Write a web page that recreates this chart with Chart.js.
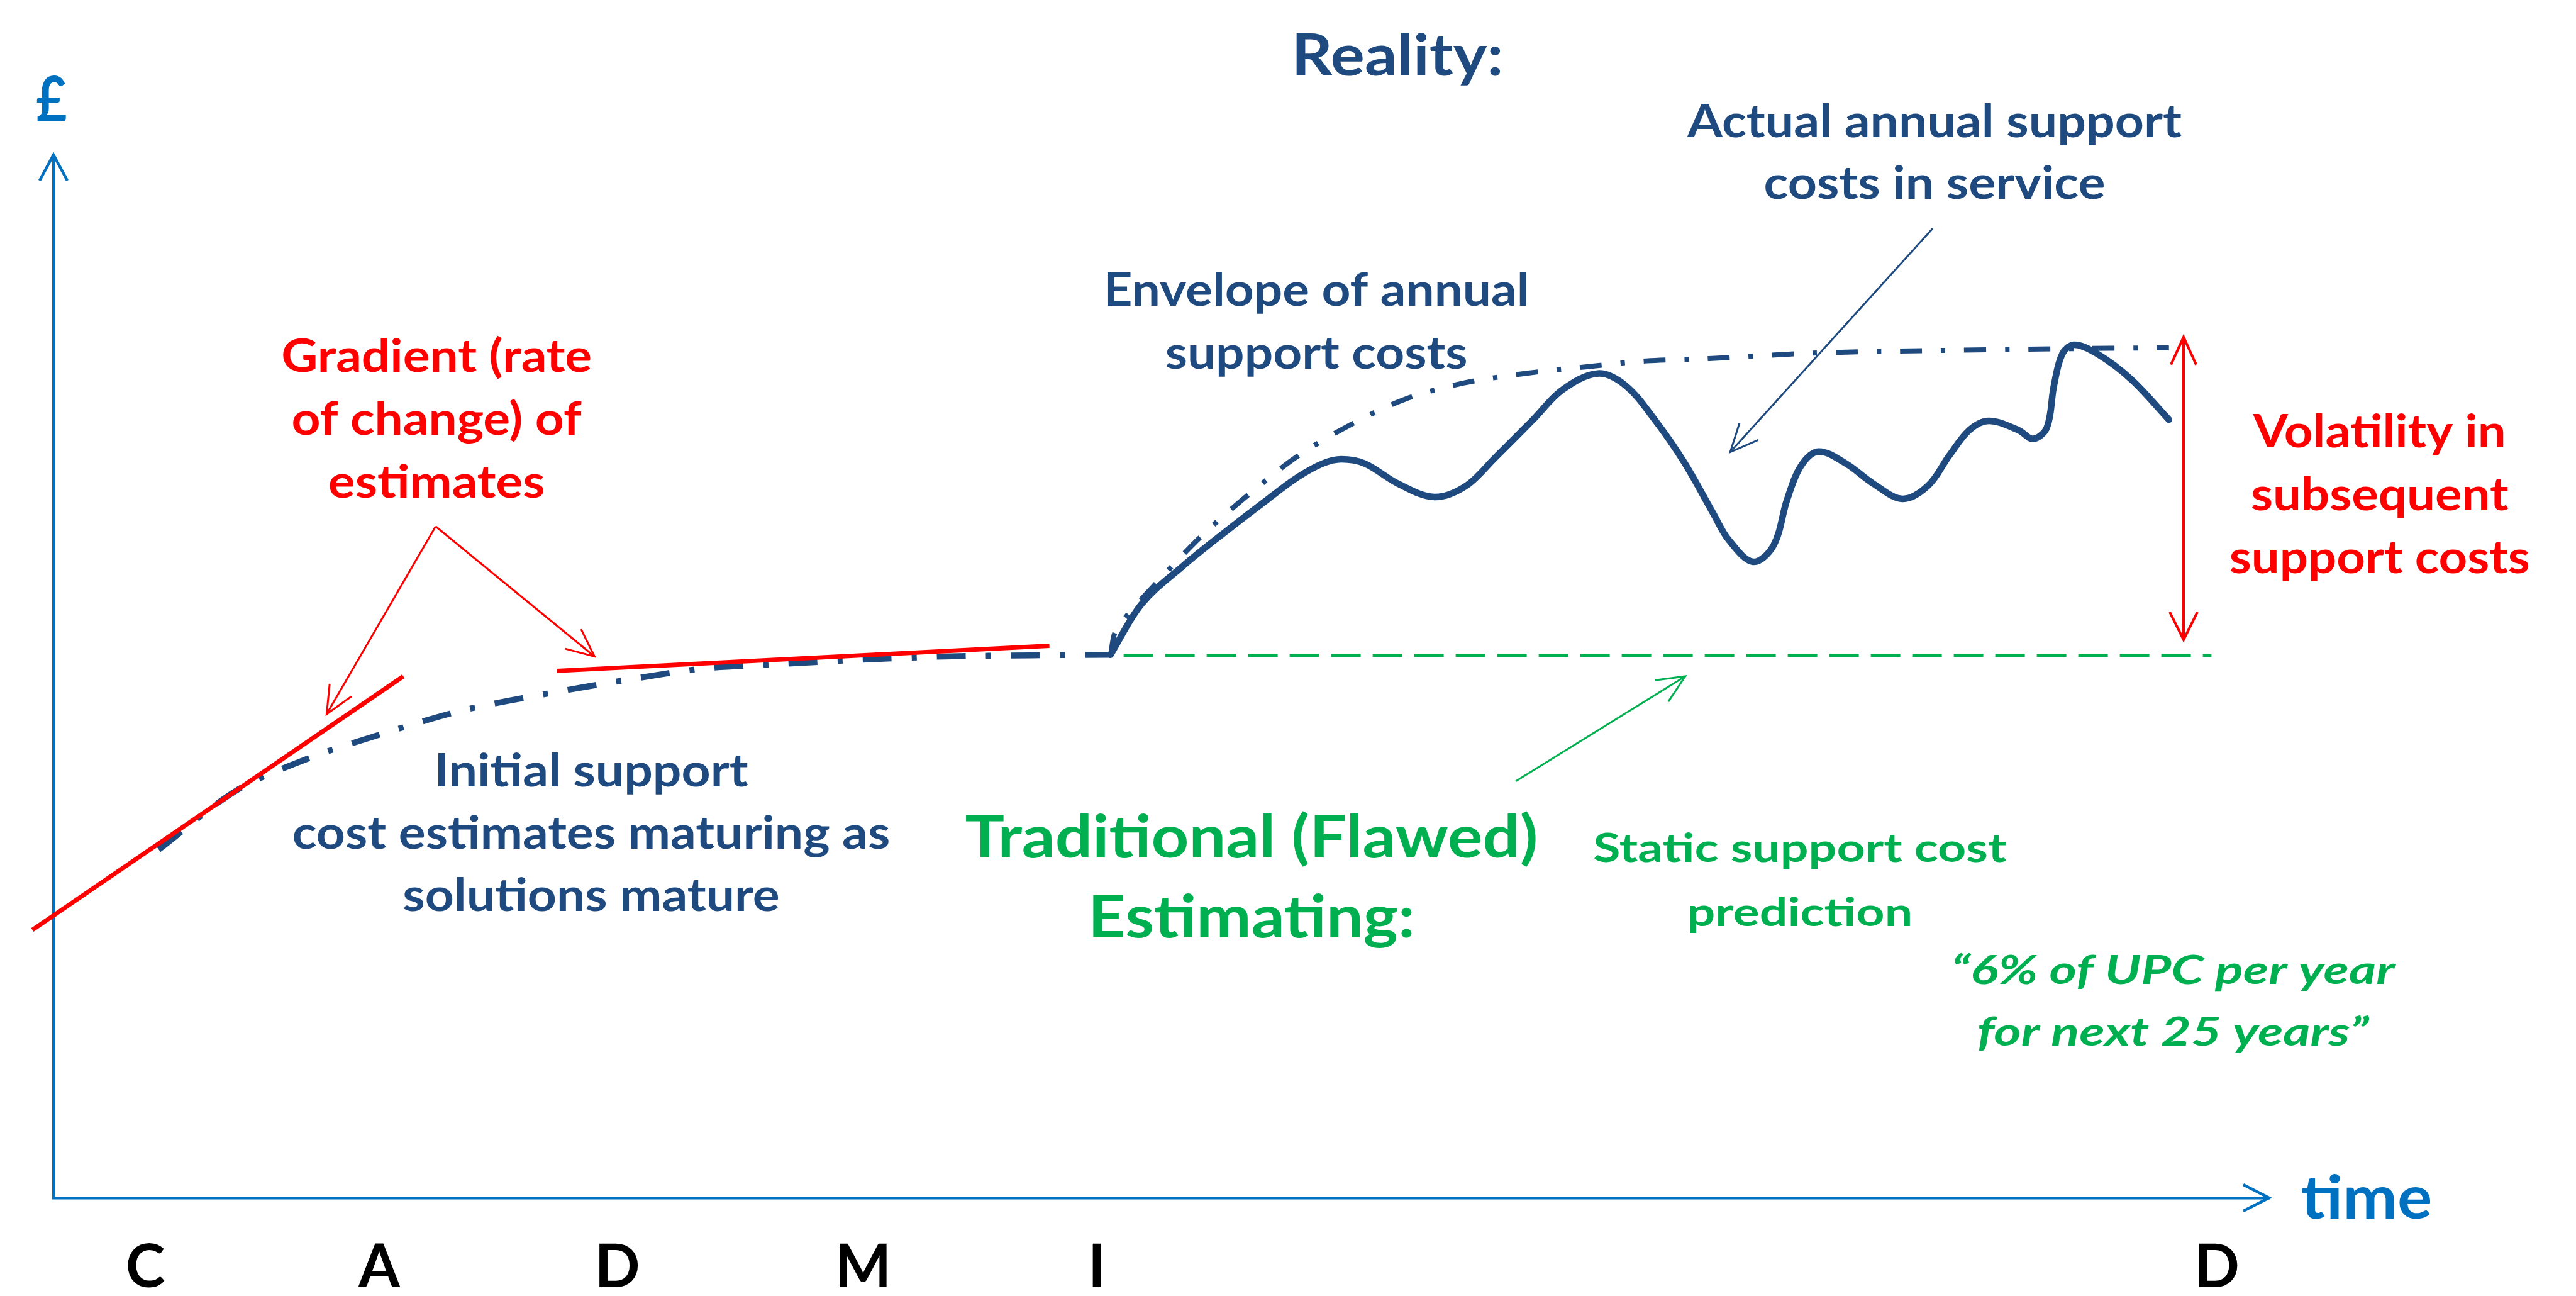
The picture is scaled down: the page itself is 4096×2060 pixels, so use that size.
<!DOCTYPE html>
<html>
<head>
<meta charset="utf-8">
<script src="https://cdn.jsdelivr.net/npm/chart.js@4.4.1/dist/chart.umd.min.js"></script>
<style>
  html, body { margin: 0; padding: 0; background: #fff; }
  #wrap { width: 4096px; height: 2060px; }
</style>
</head>
<body>
<div id="wrap"><canvas id="costChart"></canvas></div>
<script>
// phases along the time axis
const phaseLabels = ['C', 'A', 'D', 'M', 'I', 'D'];
const phasePos = [4.15, 14.7, 25.45, 36.54, 47.09, 97.64];

// red tangents = gradient of estimates
const tangent1X = [-0.95, 15.79];
const tangent1Y = [25.69, 50.0];
const tangent2X = [22.72, 44.95];
const tangent2Y = [50.52, 52.93];

// initial support cost estimates (dash-dot)
const initialX = [4.75, 8.27, 11.57, 15.01, 18.55, 22.29, 25.72, 29.34, 33.05, 36.68, 40.22, 44.12, 47.71];
const initialY = [33.39, 39.07, 42.18, 44.60, 46.78, 48.34, 49.60, 50.75, 51.21, 51.61, 51.90, 52.01, 52.07];

// traditional static prediction
const staticX = [48.3, 97.4];
const staticY = [52.0, 52.0];

// envelope of annual support costs
const envelopeX = [47.71, 47.98, 50.07, 51.96, 54.07, 56.15, 58.51, 60.99, 63.64, 66.40, 69.14, 71.90, 74.73, 79.34, 84.31, 90.21, 95.48];
const envelopeY = [52.07, 54.48, 59.60, 63.74, 67.65, 71.10, 74.08, 76.56, 78.11, 79.03, 79.66, 80.24, 80.46, 80.98, 81.21, 81.39, 81.50];

// actual annual support costs in service
const actualX = [47.71, 49.12, 51.01, 52.93, 54.83, 56.15, 57.29, 58.13, 59.18, 60.70, 62.32, 63.73, 65.05, 66.78, 68.11, 69.70, 70.95, 72.27, 73.60, 74.92, 75.60, 76.71, 77.63, 78.25, 78.87, 79.66, 80.90, 82.15, 83.45, 84.61, 85.56, 86.48, 87.35, 88.67, 89.35, 89.97, 90.29, 90.67, 91.21, 92.24, 93.78, 95.48];
const actualY = [52.07, 56.95, 60.63, 63.91, 67.01, 69.08, 70.40, 70.81, 70.40, 68.45, 67.19, 68.22, 70.92, 74.60, 77.47, 79.03, 77.88, 74.60, 70.52, 65.58, 63.11, 60.98, 62.53, 66.96, 70.17, 71.55, 70.40, 68.45, 67.01, 68.28, 71.15, 73.62, 74.49, 73.62, 72.76, 73.85, 77.88, 80.92, 81.79, 80.92, 78.46, 74.60];

const AXIS_BLUE = '#0070C0';
const NAVY = '#1F4A7F';
const RED = '#FF0000';
const GREEN = '#00B050';
const FONT = 'Lato, "Open Sans", sans-serif';

const zip = (xs, ys) => xs.map((x, i) => ({ x, y: ys[i] }));

// text notes: centre x / first baseline y in data units, dy = line step
const notes = [
  { lines: ['£'], x: -0.09, y: 103.2, dy: 0, size: 99, color: AXIS_BLUE, w: 49 },
  { lines: ['time'], x: 104.4, y: -2.0, dy: 0, size: 96, color: AXIS_BLUE, w: 209 },
  { lines: ['Reality:'], x: 60.66, y: 107.6, dy: 0, size: 92, color: NAVY, w: 337 },
  { lines: ['Actual annual support', 'costs in service'], x: 84.9, y: 101.7, dy: 5.91, size: 72, color: NAVY, w: 786 },
  { lines: ['Envelope of annual', 'support costs'], x: 57.0, y: 85.5, dy: 6.03, size: 72, color: NAVY, w: 677 },
  { lines: ['Gradient (rate', 'of change) of', 'estimates'], x: 17.29, y: 79.2, dy: 6.03, size: 72, color: RED, w: 494 },
  { lines: ['Initial support', 'cost estimates maturing as', 'solutions mature'], x: 24.27, y: 39.45, dy: 5.97, size: 72, color: NAVY, w: 499 },
  { lines: ['Traditional (Flawed)', 'Estimating:'], x: 54.07, y: 32.63, dy: 7.66, size: 94, color: GREEN, w: 911 },
  { lines: ['Static support cost', 'prediction'], x: 78.82, y: 32.2, dy: 6.15, size: 63, color: GREEN, w: 657 },
  { lines: ['\u201C6% of UPC per year', 'for next 25 years\u201D'], x: 95.66, y: 20.5, dy: 5.91, size: 63, color: GREEN, w: 705, italic: true },
  { lines: ['Volatility in', 'subsequent', 'support costs'], x: 104.99, y: 71.96, dy: 6.03, size: 72, color: RED, w: 402 }
];

// pointer arrows in data units
const pointers = [
  { x1: 17.25, y1: 64.37, x2: 12.33, y2: 46.38, color: RED, width: 3, both: false },
  { x1: 17.25, y1: 64.37, x2: 24.42, y2: 51.90, color: RED, width: 3, both: false },
  { x1: 84.82, y1: 92.94, x2: 75.68, y2: 71.50, color: NAVY, width: 3, both: false },
  { x1: 66.0, y1: 39.94, x2: 73.65, y2: 50.0, color: GREEN, width: 3, both: false },
  { x1: 96.14, y1: 53.5, x2: 96.14, y2: 82.53, color: RED, width: 4, both: true }
];

function openHead(ctx, tx, ty, ang, len, spread) {
  const bx = tx - len * Math.cos(ang), by = ty - len * Math.sin(ang);
  const nx = -Math.sin(ang) * spread, ny = Math.cos(ang) * spread;
  ctx.beginPath();
  ctx.moveTo(bx + nx, by + ny);
  ctx.lineTo(tx, ty);
  ctx.lineTo(bx - nx, by - ny);
  ctx.stroke();
}

const overlay = {
  id: 'overlay',
  afterDraw(chart) {
    const { ctx, chartArea: a, scales: { x, y } } = chart;
    ctx.save();
    ctx.lineCap = 'butt';
    ctx.lineJoin = 'miter';

    // axis arrowheads
    ctx.strokeStyle = AXIS_BLUE;
    ctx.lineWidth = 4.5;
    openHead(ctx, a.left, a.top, -Math.PI / 2, 41, 22);
    openHead(ctx, a.right, a.bottom, 0, 41, 21);

    // pointers
    pointers.forEach(p => {
      const x1 = x.getPixelForValue(p.x1), y1 = y.getPixelForValue(p.y1);
      const x2 = x.getPixelForValue(p.x2), y2 = y.getPixelForValue(p.y2);
      ctx.strokeStyle = p.color;
      ctx.lineWidth = p.width;
      ctx.beginPath();
      ctx.moveTo(x1, y1);
      ctx.lineTo(x2, y2);
      ctx.stroke();
      const ang = Math.atan2(y2 - y1, x2 - x1);
      openHead(ctx, x2, y2, ang, 44, 20);
      if (p.both) openHead(ctx, x1, y1, ang + Math.PI, 44, 22);
    });

    // text
    ctx.textAlign = 'center';
    ctx.textBaseline = 'alphabetic';
    notes.forEach(n => {
      ctx.font = (n.italic ? 'italic ' : '') + 'bold ' + n.size + 'px ' + FONT;
      ctx.fillStyle = n.color;
      const sx = n.w / ctx.measureText(n.lines[0]).width;
      const cx = x.getPixelForValue(n.x);
      n.lines.forEach((line, i) => {
        const cy = y.getPixelForValue(n.y - i * n.dy);
        ctx.save();
        ctx.translate(cx, cy);
        ctx.scale(sx, 1);
        ctx.fillText(line, 0, 0);
        ctx.restore();
      });
    });
    ctx.restore();
  }
};

const lineSet = (data, color, width, dash, extra) => Object.assign({
  data, borderColor: color, borderWidth: width, borderDash: dash,
  pointRadius: 0, fill: false, tension: 0, clip: false
}, extra || {});

new Chart(document.getElementById('costChart'), {
  type: 'line',
  data: {
    datasets: [
      lineSet(zip(tangent1X, tangent1Y), RED, 7, []),
      lineSet(zip(tangent2X, tangent2Y), RED, 7, []),
      lineSet(zip(actualX, actualY), NAVY, 10.5, [], { tension: 0.35, borderCapStyle: 'round' }),
      lineSet(zip(staticX, staticY), GREEN, 5, [47, 19]),
      lineSet(zip(envelopeX, envelopeY), NAVY, 8, [35, 30, 7, 30], { tension: 0.3 }),
      lineSet(zip(initialX, initialY), NAVY, 9.5, [46, 32, 8, 32], { tension: 0.3 })
    ]
  },
  options: {
    responsive: true,
    maintainAspectRatio: false,
    animation: false,
    devicePixelRatio: 1,
    layout: { padding: { top: 246, right: 488, left: 0, bottom: 0 } },
    plugins: { legend: { display: false }, tooltip: { enabled: false } },
    scales: {
      x: {
        type: 'linear', min: 0, max: 100,
        grid: { display: false, drawTicks: false },
        border: { display: true, color: AXIS_BLUE, width: 4.5 },
        afterFit: s => { s.height = 156; },
        afterBuildTicks: s => { s.ticks = phasePos.map(v => ({ value: v })); },
        ticks: {
          autoSkip: false, maxRotation: 0, padding: 54,
          color: '#000',
          font: { family: FONT, size: 95, weight: 'bold' },
          callback: (v, i) => phaseLabels[i]
        }
      },
      y: {
        type: 'linear', min: 0, max: 100,
        grid: { display: false, drawTicks: false },
        border: { display: true, color: AXIS_BLUE, width: 4.5 },
        afterFit: s => { s.width = 85; },
        ticks: { display: false }
      }
    }
  },
  plugins: [overlay]
});
</script>
</body>
</html>
